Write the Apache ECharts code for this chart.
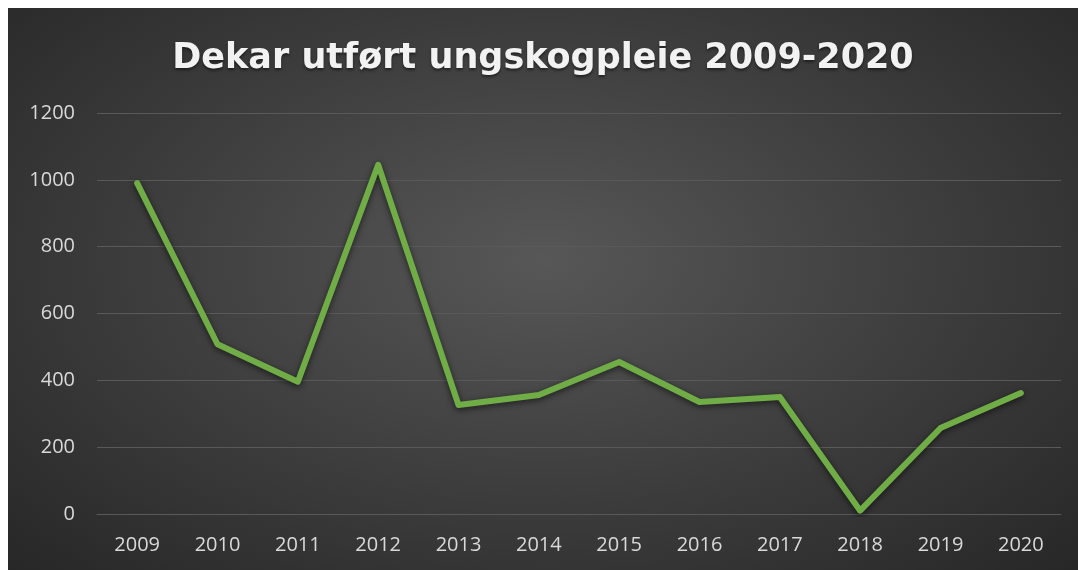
<!DOCTYPE html>
<html>
<head>
<meta charset="utf-8">
<script src="https://cdn.jsdelivr.net/npm/echarts@6/dist/echarts.min.js"></script>
<style>
  html, body { margin: 0; padding: 0; background: #fff; }
  #main {
    position: absolute; left: 8px; top: 8px; width: 1070px; height: 562px;
    background: radial-gradient(ellipse at 50% 45%, #575757 0%, #3c3c3c 55%, #272727 100%);
  }
</style>
</head>
<body>
<div id="main"></div>
<script>
  // Data
  var years = ['2009', '2010', '2011', '2012', '2013', '2014', '2015', '2016', '2017', '2018', '2019', '2020'];
  var dekar = [990, 508, 396, 1045, 326, 356, 455, 335, 350, 10, 257, 362];
  var yTicks = { min: 0, max: 1200, step: 200 };

  var myChart = echarts.init(document.getElementById('main'), null, { renderer: 'canvas' });

  var option = {
    backgroundColor: 'transparent',
    animation: false,
    title: {
      text: 'Dekar utført ungskogpleie 2009-2020',
      left: 'center',
      top: 28,
      textStyle: {
        color: '#f2f2f2',
        fontFamily: 'DejaVu Sans',
        fontWeight: 'bold',
        fontSize: 35,
        textShadowColor: 'rgba(0,0,0,0.5)',
        textShadowBlur: 3,
        textShadowOffsetY: 2
      }
    },
    grid: {
      left: 89,
      right: 17,
      top: 105,
      bottom: 56
    },
    xAxis: {
      type: 'category',
      data: years,
      boundaryGap: true,
      axisLine: { show: true, lineStyle: { color: '#595959', width: 1 } },
      axisTick: { show: false },
      axisLabel: {
        color: '#d9d9d9',
        fontFamily: 'Open Sans',
        fontSize: 20,
        margin: 21
      }
    },
    yAxis: {
      type: 'value',
      min: yTicks.min,
      max: yTicks.max,
      interval: yTicks.step,
      axisLine: { show: false },
      axisTick: { show: false },
      splitLine: { lineStyle: { color: '#595959', width: 1 } },
      axisLabel: {
        color: '#d9d9d9',
        fontFamily: 'Open Sans',
        fontSize: 20,
        margin: 22,
        formatter: function (v) { return String(v); }
      }
    },
    series: [
      {
        name: 'Dekar',
        type: 'line',
        data: dekar,
        symbol: 'none',
        lineStyle: {
          color: '#70ad47',
          width: 6,
          cap: 'round',
          join: 'round',
          shadowColor: 'rgba(0,0,0,0.6)',
          shadowBlur: 6,
          shadowOffsetY: 2
        }
      }
    ]
  };

  myChart.setOption(option);
</script>
</body>
</html>
